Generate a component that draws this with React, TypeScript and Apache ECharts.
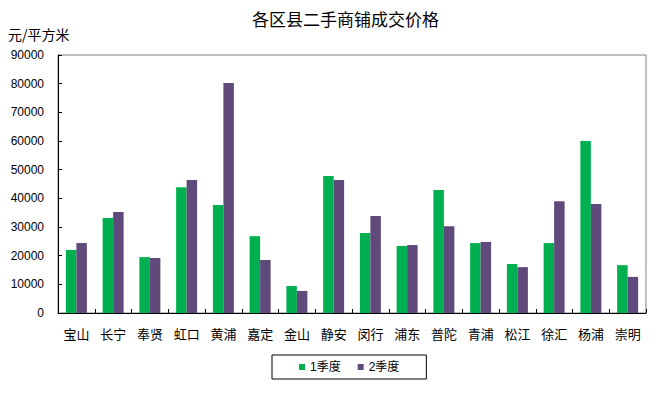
import React, { useEffect, useRef } from "react";
import * as echarts from "echarts";

const categories = ["宝山", "长宁", "奉贤", "虹口", "黄浦", "嘉定", "金山", "静安", "闵行", "浦东", "普陀", "青浦", "松江", "徐汇", "杨浦", "崇明"];
const q1 = [22000, 33100, 19500, 43900, 37700, 26800, 9400, 47800, 27900, 23400, 42900, 24400, 17100, 24400, 60000, 16700];
const q2 = [24400, 35200, 19200, 46400, 80200, 18500, 7700, 46400, 33800, 23700, 30300, 24800, 16000, 39000, 38000, 12600];
const yTicks = { min: 0, max: 90000, interval: 10000 };

const FONT = "'Liberation Sans', 'Noto Sans CJK SC', sans-serif";
const CJK = "'Noto Sans CJK SC', sans-serif";

export default function App() {
  const ref = useRef<HTMLDivElement>(null);
  useEffect(() => {
    if (!ref.current) return;
    const chart = echarts.init(ref.current, undefined, { renderer: "svg" });
    chart.setOption({
      animation: false,
      backgroundColor: "#ffffff",
      textStyle: { fontFamily: FONT },
      title: {
        text: "各区县二手商铺成交价格",
        left: 252,
        top: 10,
        padding: 0,
        textStyle: { fontSize: 17, fontWeight: "normal", color: "#000", fontFamily: CJK },
      },
      graphic: [
        {
          type: "text",
          left: 8,
          top: 27,
          style: { text: "元/平方米", fontSize: 14, fill: "#000", fontFamily: CJK },
        },
      ],
      legend: {
        data: ["1季度", "2季度"],
        left: 272,
        top: 355,
        itemWidth: 6,
        itemHeight: 6,
        itemGap: 17,
        icon: "rect",
        borderColor: "#000",
        borderWidth: 1,
        borderRadius: 0,
        padding: [6, 27, 6, 27],
        textStyle: { fontSize: 12, color: "#000", fontFamily: FONT },
      },
      grid: {
        left: 58,
        right: 14,
        top: 55,
        bottom: 80,
        show: true,
        borderColor: "#808080",
        borderWidth: 1,
      },
      xAxis: {
        type: "category",
        data: categories,
        axisLine: { lineStyle: { color: "#000", width: 1 } },
        axisTick: { show: true, inside: true, length: 4, lineStyle: { color: "#000" } },
        axisLabel: { fontSize: 13, color: "#000", margin: 14, interval: 0, fontFamily: CJK },
        splitLine: { show: false },
      },
      yAxis: {
        type: "value",
        min: yTicks.min,
        max: yTicks.max,
        interval: yTicks.interval,
        axisLine: { show: true, lineStyle: { color: "#000", width: 1 } },
        axisTick: { show: true, inside: true, length: 4, lineStyle: { color: "#000" } },
        axisLabel: { fontSize: 12, color: "#000", margin: 14, fontFamily: FONT, formatter: (v: number) => String(v) },
        splitLine: { show: false },
      },
      series: [
        {
          name: "1季度",
          type: "bar",
          data: q1,
          barWidth: 10.5,
          barGap: "0%",
          itemStyle: { color: "#00B050" },
        },
        {
          name: "2季度",
          type: "bar",
          data: q2,
          barWidth: 10.5,
          barGap: "0%",
          itemStyle: { color: "#604A7B" },
        },
      ],
    });
    return () => chart.dispose();
  }, []);
  return <div ref={ref} style={{ width: 660, height: 393, position: "absolute", left: 0, top: 0 }} />;
}
